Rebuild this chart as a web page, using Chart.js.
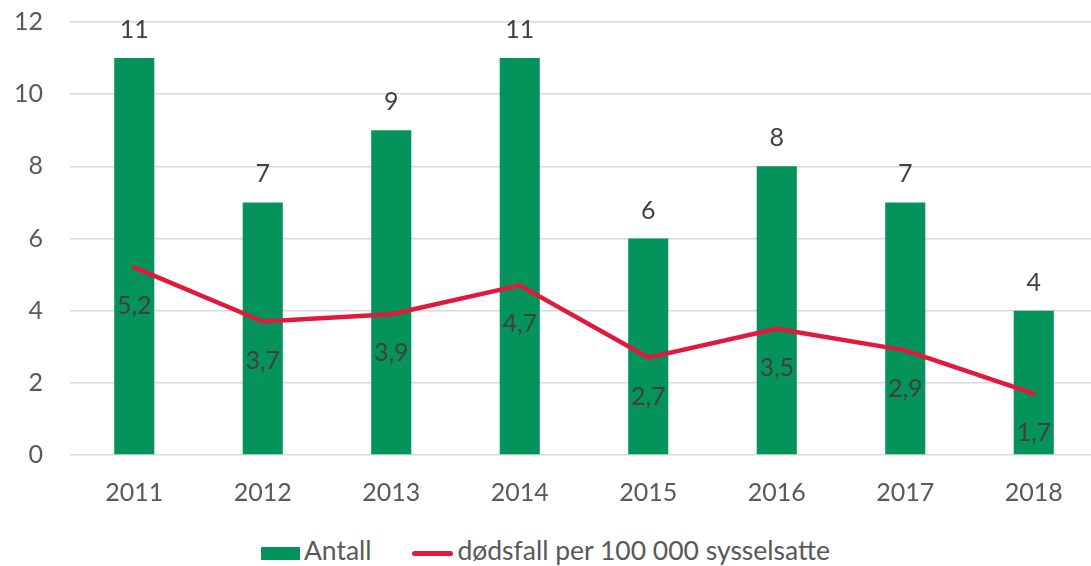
<!DOCTYPE html>
<html>
<head>
<meta charset="utf-8">
<script src="https://cdn.jsdelivr.net/npm/chart.js@4"></script>
<style>
  html, body { margin: 0; padding: 0; background: #fff; overflow: hidden; }
  body { width: 1091px; height: 566px; position: relative; font-family: Lato, "Open Sans", sans-serif; }
  #wrap { position: absolute; left: 0; top: -20px; width: 1098px; height: 543px; }
  #legend { position: absolute; top: 531px; left: 0; width: 1091px; text-align: center; font-size: 26.5px; color: #595959; }
  #legend span.item { display: inline-block; vertical-align: middle; margin: 0 17px; }
  #legend i { display: inline-block; vertical-align: middle; margin-right: 4px; }
</style>
</head>
<body>
<div id="wrap"><canvas id="chart"></canvas></div>
<div id="legend">
  <span class="item"><i style="width:39px;height:13px;background:#05935c"></i>Antall</span>
  <span class="item"><i style="width:41px;height:5px;border-radius:3px;background:#e0193d"></i>dødsfall per 100 000 sysselsatte</span>
</div>
<script>
// data
const years = ["2011", "2012", "2013", "2014", "2015", "2016", "2017", "2018"];
const antall = [11, 7, 9, 11, 6, 8, 7, 4];
const perHundredThousand = [5.2, 3.7, 3.9, 4.7, 2.7, 3.5, 2.9, 1.7];

const fontFamily = "Lato, 'Open Sans', sans-serif";
const labelFont = "25px " + fontFamily;

// draws value labels: above bars, below line points
const valueLabels = {
  id: "valueLabels",
  afterDatasetsDraw(chart) {
    const ctx = chart.ctx;
    ctx.save();
    ctx.font = labelFont;
    ctx.fillStyle = "#404040";
    ctx.textAlign = "center";
    ctx.textBaseline = "middle";
    chart.getDatasetMeta(0).data.forEach((bar, i) => {
      ctx.fillText(String(antall[i]), bar.x, bar.y - 28);
    });
    chart.getDatasetMeta(1).data.forEach((pt, i) => {
      ctx.fillText(perHundredThousand[i].toFixed(1).replace(".", ","), pt.x, pt.y + 39);
    });
    ctx.restore();
  }
};

new Chart(document.getElementById("chart"), {
  data: {
    labels: years,
    datasets: [
      {
        type: "bar",
        label: "Antall",
        data: antall,
        backgroundColor: "#05935c",
        barPercentage: 1,
        categoryPercentage: 0.312,
        order: 2
      },
      {
        type: "line",
        label: "dødsfall per 100 000 sysselsatte",
        data: perHundredThousand,
        borderColor: "#e0193d",
        borderWidth: 4.5,
        borderCapStyle: "round",
        borderJoinStyle: "round",
        pointRadius: 0,
        tension: 0,
        order: 1
      }
    ]
  },
  options: {
    responsive: true,
    maintainAspectRatio: false,
    animation: false,
    layout: { padding: { top: 8, left: 0, right: 0, bottom: 0 } },
    plugins: {
      legend: { display: false },
      tooltip: { enabled: false }
    },
    scales: {
      x: {
        grid: { display: false },
        border: { display: false },
        ticks: { color: "#595959", font: { family: fontFamily, size: 25 }, padding: 15 }
      },
      y: {
        min: 0,
        max: 12,
        afterFit: (s) => { s.width = 70; },
        grid: { color: "#d9d9d9", lineWidth: 1.5, drawTicks: false },
        border: { display: false },
        ticks: { stepSize: 2, color: "#595959", font: { family: fontFamily, size: 25 }, padding: 27 }
      }
    }
  },
  plugins: [valueLabels]
});
</script>
</body>
</html>
